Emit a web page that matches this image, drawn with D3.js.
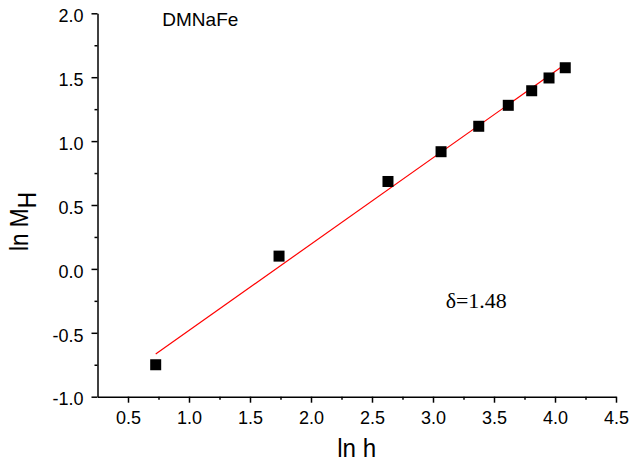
<!DOCTYPE html>
<html>
<head>
<meta charset="utf-8">
<script src="https://cdn.jsdelivr.net/npm/d3@7"></script>
<style>
  body { margin: 0; background: #fff; }
  svg { display: block; }
</style>
</head>
<body>
<script>
// data
var lnH  = [0.727, 1.738, 2.631, 3.066, 3.375, 3.617, 3.809, 3.951, 4.084];
var lnMH = [-0.750, 0.100, 0.684, 0.917, 1.116, 1.280, 1.394, 1.494, 1.574];

// linear fit end points (slope 1/delta)
var fitX = [0.727, 4.084];
var fitY = [-0.666, 1.601];

var xTicks = [0.5, 1.0, 1.5, 2.0, 2.5, 3.0, 3.5, 4.0, 4.5];
var yTicks = [-1.0, -0.5, 0.0, 0.5, 1.0, 1.5, 2.0];
var xMinor = [0.75, 1.25, 1.75, 2.25, 2.75, 3.25, 3.75, 4.25];
var yMinor = [-0.75, -0.25, 0.25, 0.75, 1.25, 1.75];

var w = 631, h = 463;
var padL = 97.5, padR = 616, padT = 13.3, padB = 396.7;

var svg = d3.select("body").append("svg")
    .attr("width", w)
    .attr("height", h);

var x = d3.scaleLinear().domain([0.25, 4.5]).range([padL, padR]);
var y = d3.scaleLinear().domain([-1, 2]).range([padB, padT]);

var font = "'Liberation Sans', Arial, sans-serif";
var fmt = function(d) { return d.toFixed(1); };  // plain hyphen minus like the original

// fit line
svg.append("line")
    .attr("x1", x(fitX[0])).attr("y1", y(fitY[0]))
    .attr("x2", x(fitX[1])).attr("y2", y(fitY[1]))
    .attr("stroke", "#ff0000")
    .attr("stroke-width", 1.2);

// square markers
var s = 11;
svg.selectAll("rect.pt")
    .data(lnH)
    .enter()
    .append("rect")
    .attr("class", "pt")
    .attr("x", function(d) { return x(d) - s / 2; })
    .attr("y", function(d, i) { return y(lnMH[i]) - s / 2; })
    .attr("width", s)
    .attr("height", s)
    .attr("fill", "#000");

// axes
var xAxis = svg.append("g")
    .attr("transform", "translate(0," + padB + ")")
    .call(d3.axisBottom(x).tickValues(xTicks).tickSize(6).tickSizeOuter(0).tickFormat(fmt));
svg.append("g")
    .attr("transform", "translate(0," + padB + ")")
    .call(d3.axisBottom(x).tickValues(xMinor).tickSize(3).tickFormat("").tickSizeOuter(0))
    .select(".domain").remove();

var yAxis = svg.append("g")
    .attr("transform", "translate(" + padL + ",0)")
    .call(d3.axisLeft(y).tickValues(yTicks).tickSize(6).tickSizeOuter(0).tickFormat(fmt));
svg.append("g")
    .attr("transform", "translate(" + padL + ",0)")
    .call(d3.axisLeft(y).tickValues(yMinor).tickSize(3).tickFormat("").tickSizeOuter(0))
    .select(".domain").remove();

svg.selectAll(".domain, .tick line")
    .attr("stroke", "#000")
    .attr("stroke-width", 1.5);

xAxis.selectAll("text")
    .attr("font-family", font)
    .attr("font-size", "18px")
    .attr("fill", "#000")
    .attr("y", 14.5);
yAxis.selectAll("text")
    .attr("font-family", font)
    .attr("font-size", "18px")
    .attr("fill", "#000")
    .attr("x", -14)
    .attr("dy", "0.46em");

// axis titles
svg.append("text")
    .attr("x", x(2.375))
    .attr("y", 457)
    .attr("text-anchor", "middle")
    .attr("font-family", font)
    .attr("font-size", "26px")
    .attr("textLength", 39)
    .attr("lengthAdjust", "spacingAndGlyphs")
    .text("ln h");

var yt = svg.append("text")
    .attr("transform", "translate(28,221.5) rotate(-90)")
    .attr("text-anchor", "middle")
    .attr("font-family", font)
    .attr("font-size", "26px")
    .attr("textLength", 59)
    .attr("lengthAdjust", "spacingAndGlyphs");
yt.append("tspan").text("ln M");
yt.append("tspan").attr("dy", 7.5).text("H");

// annotations
svg.append("text")
    .attr("x", 162.3)
    .attr("y", 26)
    .attr("font-family", font)
    .attr("font-size", "19px")
    .text("DMNaFe");

svg.append("text")
    .attr("x", 445.7)
    .attr("y", 308.3)
    .attr("font-family", "'Liberation Serif', 'Times New Roman', serif")
    .attr("font-size", "21px")
    .attr("textLength", 61)
    .attr("lengthAdjust", "spacingAndGlyphs")
    .text("\u03b4=1.48");
</script>
</body>
</html>
